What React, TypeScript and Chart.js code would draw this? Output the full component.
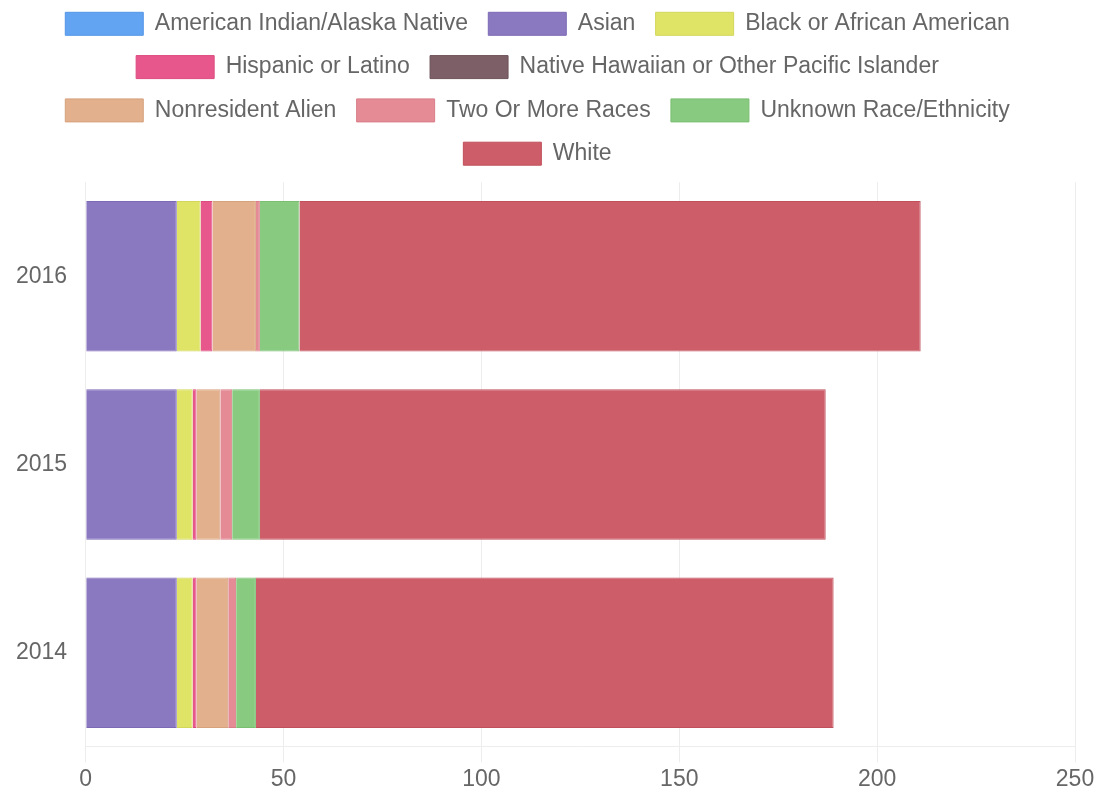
import React, { useEffect, useRef } from "react";
import { Chart, registerables } from "chart.js";

Chart.register(...registerables);

const years = ["2016", "2015", "2014"];
const seriesNames = [
  "American Indian/Alaska Native",
  "Asian",
  "Black or African American",
  "Hispanic or Latino",
  "Native Hawaiian or Other Pacific Islander",
  "Nonresident Alien",
  "Two Or More Races",
  "Unknown Race/Ethnicity",
  "White",
];
const americanIndian = [0, 0, 0];
const asian = [23, 23, 23];
const black = [6, 4, 4];
const hispanic = [3, 1, 1];
const nativeHawaiian = [0, 0, 0];
const nonresident = [11, 6, 8];
const twoOrMore = [1, 3, 2];
const unknown = [10, 7, 5];
const white = [157, 143, 146];
const xTicks = [0, 50, 100, 150, 200, 250];

const fills = [
  "#62a3f2",
  "#8a78c0",
  "#e0e466",
  "#e8578b",
  "#7d6067",
  "#e2b08c",
  "#e48b96",
  "#88cb80",
  "#cd5d68",
];
const borders = [
  "#5496e6",
  "#7c6ab6",
  "#d2d65a",
  "#dc4a7e",
  "#6e525a",
  "#d6a27e",
  "#d87d88",
  "#7abe72",
  "#c0505c",
];

const FONT = "'Liberation Sans', Arial, Helvetica, sans-serif";
const FS = 23;

const legendFix = {
  id: "legendFix",
  afterInit(chart: any) {
    const lg = chart.legend;
    if (!lg) return;
    const fit = lg.fit.bind(lg);
    lg.fit = function () {
      fit();
      this.height += 7;
    };
  },
  afterLayout(chart: any) {
    const lg = chart.legend;
    if (!lg) return;
    lg.left -= 6.5;
    lg.right -= 6.5;
  },
};

export default function App() {
  const ref = useRef<HTMLCanvasElement>(null);
  useEffect(() => {
    if (!ref.current) return;
    const values = [
      americanIndian,
      asian,
      black,
      hispanic,
      nativeHawaiian,
      nonresident,
      twoOrMore,
      unknown,
      white,
    ];
    const chart = new Chart(ref.current, {
      type: "bar",
      data: {
        labels: years,
        datasets: seriesNames.map((name, i) => ({
          label: name,
          data: values[i],
          backgroundColor: fills[i],
          borderColor: borders[i],
          borderWidth: 1,
          barPercentage: 1,
          categoryPercentage: 0.8,
        })),
      },
      plugins: [legendFix],
      options: {
        indexAxis: "y",
        animation: false,
        responsive: false,
        maintainAspectRatio: false,
        layout: { padding: { left: 13, right: 26, top: -8, bottom: 0 } },
        plugins: {
          tooltip: { enabled: false },
          legend: {
            position: "top",
            labels: {
              boxWidth: 78,
              boxHeight: 23,
              padding: 20.3,
              color: "#666",
              font: { family: FONT, size: FS },
            },
          },
        },
        scales: {
          x: {
            stacked: true,
            min: 0,
            max: 250,
            afterBuildTicks: (axis: any) => {
              axis.ticks = xTicks.map((v) => ({ value: v }));
            },
            ticks: {
              color: "#666",
              font: { family: FONT, size: FS },
              padding: 3,
            },
            grid: {
              color: "rgba(0,0,0,0.07)",
              tickLength: 15.6,
              lineWidth: 1,
            },
            border: { color: "rgba(0,0,0,0.07)" },
          },
          y: {
            stacked: true,
            ticks: {
              color: "#666",
              font: { family: FONT, size: FS },
              padding: 3,
            },
            grid: { display: false, tickLength: 15.6 },
            border: { display: false },
          },
        },
      },
    });
    return () => chart.destroy();
  }, []);
  return (
    <div style={{ position: "fixed", left: 0, top: 0, width: 1101, height: 796, background: "#fff" }}>
      <canvas ref={ref} width={1101} height={796} style={{ width: 1101, height: 796 }} />
    </div>
  );
}
